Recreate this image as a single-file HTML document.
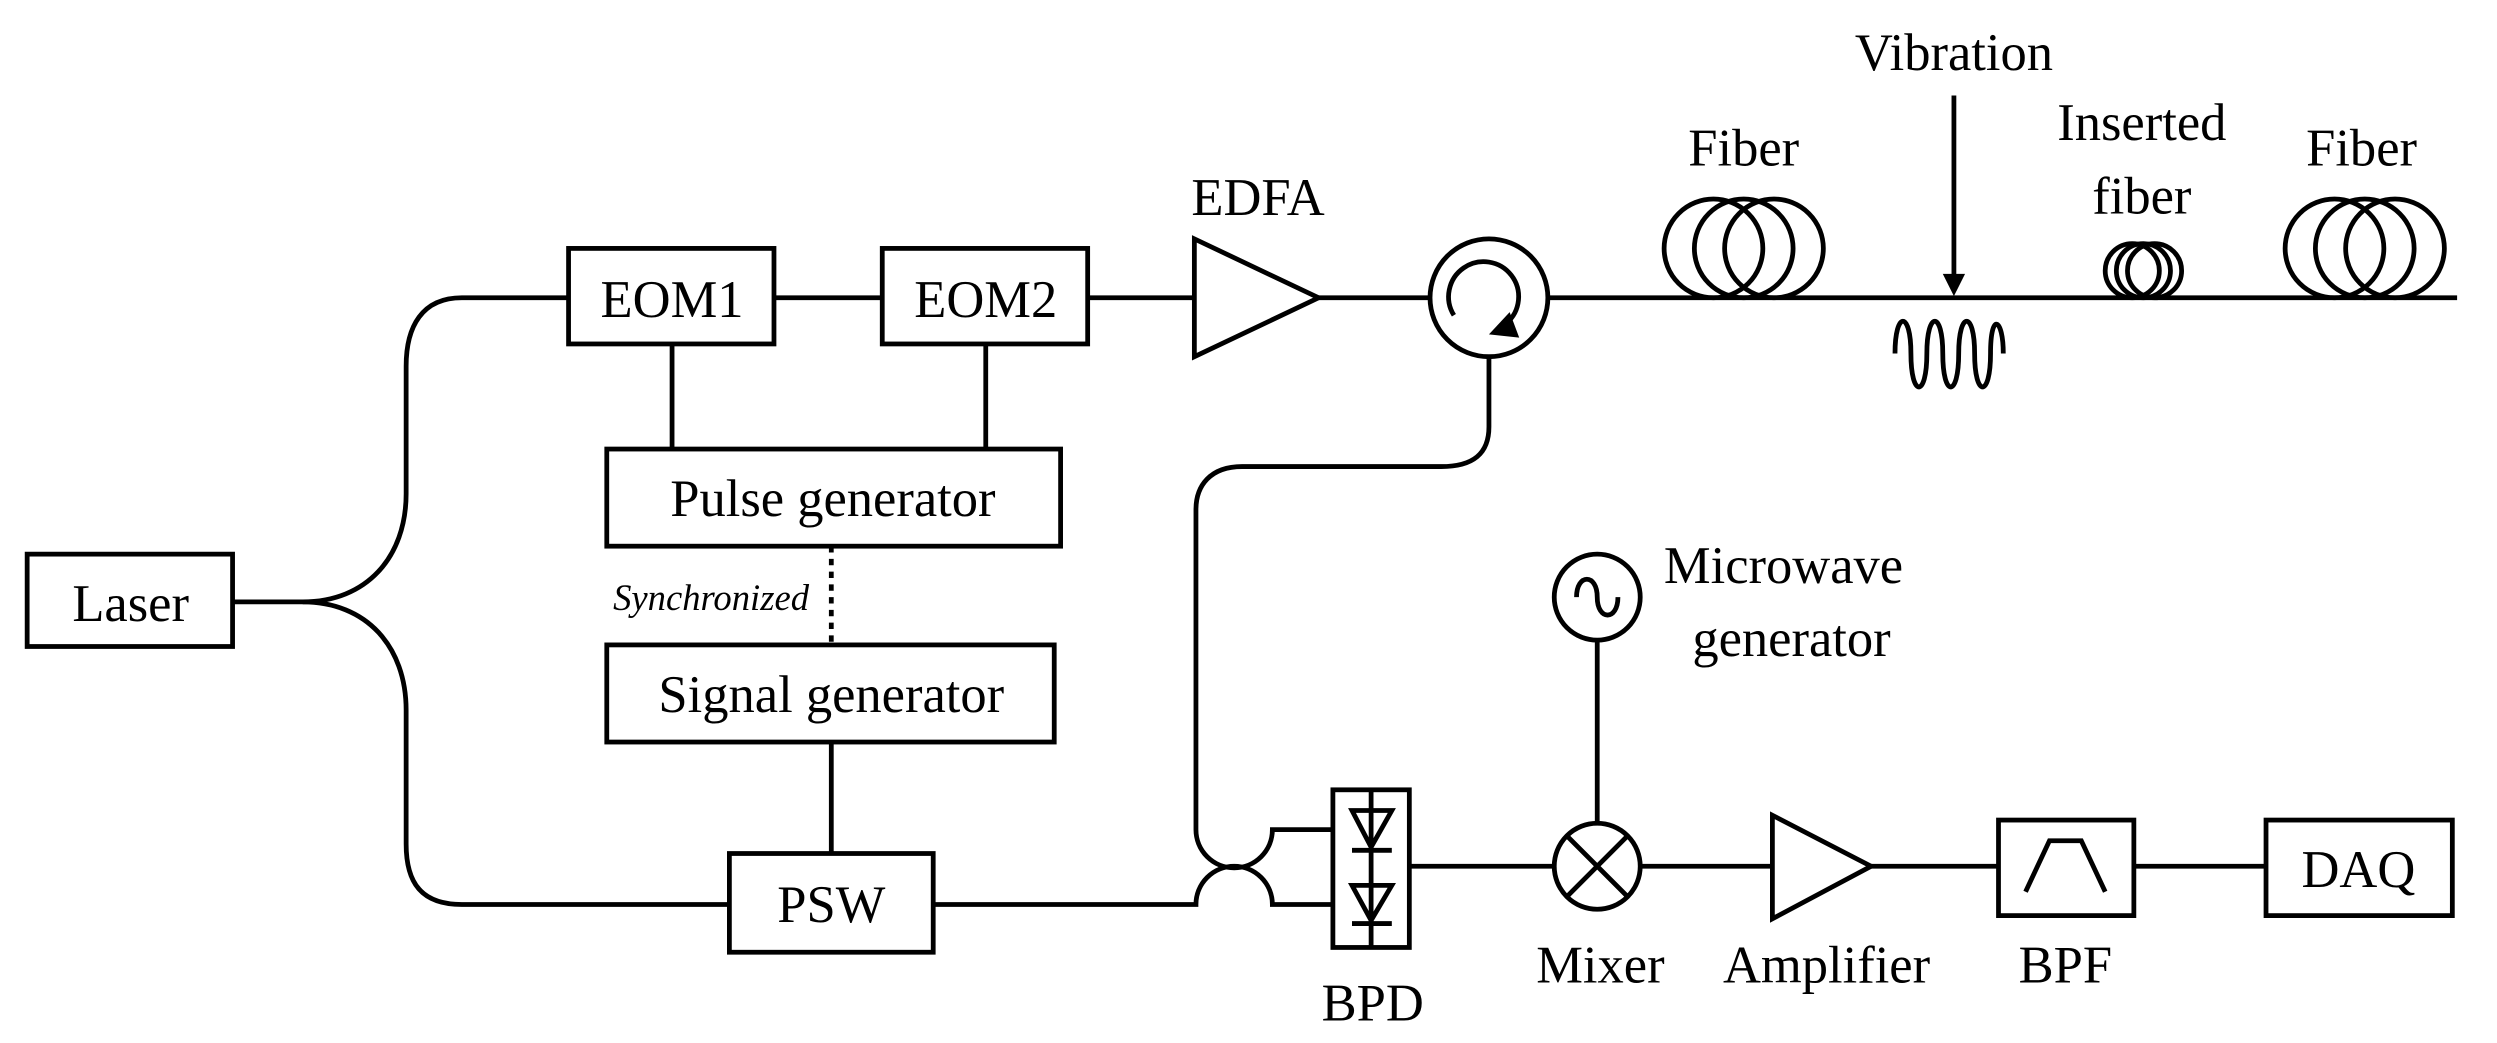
<!DOCTYPE html>
<html><head><meta charset="utf-8"><style>html,body{margin:0;padding:0;background:#fff}svg{display:block}text{font-family:"Liberation Serif",serif;fill:#000}</style></head><body>
<svg width="2497" height="1043" viewBox="0 0 1568 655" xmlns="http://www.w3.org/2000/svg">
<g fill="none" stroke="#000" stroke-width="3">
<rect x="17" y="348" width="129" height="58"/>
<path d="M146 378 H190 C230 378 255 350 255 310 V230 C255 205 265 187 290 187 H357"/>
<path d="M190 378 C230 378 255 406 255 446 V530 C255 555 265 568 290 568 H458"/>
<rect x="357" y="156" width="129" height="60"/>
<rect x="554" y="156" width="129" height="60"/>
<path d="M486 187 H554 M683 187 H750"/>
<path d="M750 150 L750 224 L828 187 Z"/>
<path d="M828 187 H898 M972 187 H1543"/>
<circle cx="935" cy="187" r="37"/>
<path d="M913 198 A22 22 0 1 1 946 203"/>
<circle cx="1076" cy="156" r="31"/><circle cx="1095" cy="156" r="31"/><circle cx="1114" cy="156" r="31"/>
<circle cx="1339" cy="170" r="17"/><circle cx="1346" cy="170" r="17"/><circle cx="1353" cy="170" r="17"/>
<circle cx="1466" cy="156" r="31"/><circle cx="1485" cy="156" r="31"/><circle cx="1504" cy="156" r="31"/>
<path d="M1227 60 V178"/>
<path d="M1190 222 C1190 195 1200 195 1200 222 C1200 250 1210 250 1210 222 C1210 195 1220 195 1220 222 C1220 250 1230 250 1230 222 C1230 195 1240 195 1240 222 C1240 250 1250 250 1250 222 C1250 195 1258 200 1258 222"/>
<rect x="381" y="282" width="285" height="61"/>
<path d="M422 216 V282 M619 216 V282"/>
<path d="M522 343 V405" stroke-dasharray="4 4"/>
<rect x="381" y="405" width="281" height="61"/>
<path d="M522 466 V536"/>
<rect x="458" y="536" width="128" height="62"/>
<path d="M586 568 H751 A24 24 0 0 1 799 568 H837"/>
<path d="M935 224 V268 C935 285 925 293 905 293 H780 C760 293 751 305 751 320 V521 A24 24 0 0 0 799 521 H837"/>
<rect x="837" y="496" width="48" height="99"/>
<path d="M861 496 V595 M849 509 H874 L861 532 Z M849 534 H874 M849 556 H874 L861 578 Z M849 580 H874"/>
<path d="M885 544 H976 M1030 544 H1113 M1175 544 H1255 M1340 544 H1423 M1003 517 V402"/>
<circle cx="1003" cy="544" r="27"/>
<path d="M984 525 L1022 563 M1022 525 L984 563"/>
<circle cx="1003" cy="375" r="27"/>
<path d="M990 375 C990 360 1003 360 1003 375 C1003 390 1016 390 1016 375"/>
<path d="M1113 512 L1113 577 L1175 544 Z"/>
<rect x="1255" y="515" width="85" height="60"/>
<path d="M1272 560 L1287 528 H1307 L1322 560"/>
<rect x="1423" y="515" width="117" height="60"/>
</g>
<path d="M1220 172 L1234 172 L1227 186 Z"/>
<path d="M935 210 L948 196 L954 212 Z"/>
<g font-size="33" text-anchor="middle">
<text x="82" y="390">Laser</text>
<text x="422" y="199">EOM1</text>
<text x="619" y="199">EOM2</text>
<text x="790" y="135">EDFA</text>
<text x="1095" y="104">Fiber</text>
<text x="1227" y="44">Vibration</text>
<text x="1345" y="88">Inserted</text>
<text x="1345" y="134">fiber</text>
<text x="1483" y="104">Fiber</text>
<text x="523" y="324">Pulse generator</text>
<text x="522" y="447">Signal generator</text>
<text x="522" y="579">PSW</text>
<text x="1120" y="366">Microwave</text>
<text x="1125" y="412">generator</text>
<text x="862" y="641">BPD</text>
<text x="1005" y="617">Mixer</text>
<text x="1147" y="617">Amplifier</text>
<text x="1297" y="617">BPF</text>
<text x="1481" y="557">DAQ</text>
</g>
<text x="508" y="383" font-size="23" font-style="italic" text-anchor="end">Synchronized</text>
</svg>
</body></html>
